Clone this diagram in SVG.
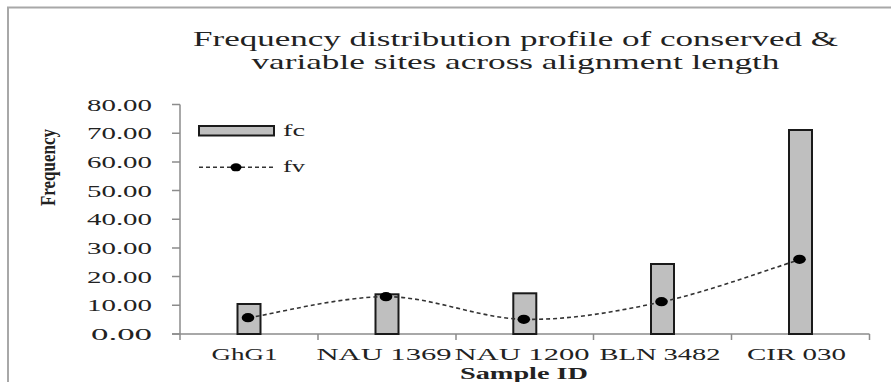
<svg xmlns="http://www.w3.org/2000/svg" width="891" height="382" viewBox="0 0 891 382">
<style>
.t{font-family:"Liberation Serif","Times New Roman",serif;fill:#222}
.title{font-size:21px}
.tick{font-size:16px;text-anchor:end}
.cat{font-size:16px;text-anchor:middle}
.axis{stroke:#8c8c8c;stroke-width:1.5;fill:none}
.bar{fill:#bfbfbf;stroke:#1a1a1a;stroke-width:2}
.dot{fill:#000}
.fv{fill:none;stroke:#333;stroke-width:1.6;stroke-dasharray:4 3}
</style>
<rect width="891" height="382" fill="#fff"/>
<rect x="8" y="7.5" width="900" height="400" fill="none" stroke="#a8a8a8" stroke-width="2"/>
<g id="title">
<text class="t title" x="515.5" y="46" text-anchor="middle" textLength="645" lengthAdjust="spacingAndGlyphs">Frequency distribution profile of conserved &amp;</text>
<text class="t title" x="515.5" y="68.5" text-anchor="middle" textLength="528" lengthAdjust="spacingAndGlyphs">variable sites across alignment length</text>
</g>
<g id="y-axis">
<path class="axis" d="M180 104.5V340M172 104.5H180M172 133.2H180M172 161.9H180M172 190.6H180M172 219.3H180M172 247.9H180M172 276.6H180M172 305.3H180M172 334H180"/>
<text class="t tick" x="152" y="110.5" textLength="65" lengthAdjust="spacingAndGlyphs">80.00</text>
<text class="t tick" x="152" y="139.2" textLength="65" lengthAdjust="spacingAndGlyphs">70.00</text>
<text class="t tick" x="152" y="167.9" textLength="65" lengthAdjust="spacingAndGlyphs">60.00</text>
<text class="t tick" x="152" y="196.6" textLength="65" lengthAdjust="spacingAndGlyphs">50.00</text>
<text class="t tick" x="152" y="225.3" textLength="65" lengthAdjust="spacingAndGlyphs">40.00</text>
<text class="t tick" x="152" y="253.9" textLength="65" lengthAdjust="spacingAndGlyphs">30.00</text>
<text class="t tick" x="152" y="282.6" textLength="65" lengthAdjust="spacingAndGlyphs">20.00</text>
<text class="t tick" x="152" y="311.3" textLength="65" lengthAdjust="spacingAndGlyphs">10.00</text>
<text class="t tick" x="152" y="340" textLength="61" lengthAdjust="spacingAndGlyphs">0.00</text>
<text class="t" x="0" y="0" font-size="21" font-weight="bold" text-anchor="middle" textLength="77" lengthAdjust="spacingAndGlyphs" transform="translate(55 167.5) rotate(-90)">Frequency</text>
</g>
<g id="x-axis">
<path class="axis" d="M172 334H869.5M318 334V340M456 334V340M593.5 334V340M731.5 334V340M869.5 334V340"/>
<text class="t cat" x="244.5" y="360" textLength="66" lengthAdjust="spacingAndGlyphs">GhG1</text>
<text class="t cat" x="384" y="360" textLength="135" lengthAdjust="spacingAndGlyphs">NAU 1369</text>
<text class="t cat" x="522" y="360" textLength="135" lengthAdjust="spacingAndGlyphs">NAU 1200</text>
<text class="t cat" x="660" y="360" textLength="121" lengthAdjust="spacingAndGlyphs">BLN 3482</text>
<text class="t cat" x="796.5" y="360" textLength="99" lengthAdjust="spacingAndGlyphs">CIR 030</text>
<text class="t" x="524" y="379" font-size="17" font-weight="bold" text-anchor="middle" textLength="128" lengthAdjust="spacingAndGlyphs">Sample ID</text>
</g>
<g id="bars">
<rect id="bar-GhG1" class="bar" x="237.5" y="304" width="23" height="30"/>
<rect id="bar-NAU1369" class="bar" x="375.5" y="294.3" width="23" height="39.7"/>
<rect id="bar-NAU1200" class="bar" x="513.3" y="293.3" width="23" height="40.7"/>
<rect id="bar-BLN3482" class="bar" x="651" y="264" width="23" height="70"/>
<rect id="bar-CIR030" class="bar" x="789" y="130" width="23" height="204"/>
</g>
<g id="connectors">
<path class="fv" d="M249 317.7C272 314.2 341 296.4 387 296.7C433 297 478.9 318.5 524.8 319.3C570.7 320.1 616.6 311.7 662.6 301.7C708.6 291.7 777.5 266.4 800.5 259.3"/>
</g>
<g id="points">
<ellipse class="dot" cx="248" cy="317.7" rx="6.3" ry="4.6"/>
<ellipse class="dot" cx="386" cy="296.7" rx="6.3" ry="4.6"/>
<ellipse class="dot" cx="523.8" cy="319.3" rx="6.3" ry="4.6"/>
<ellipse class="dot" cx="661.5" cy="301.7" rx="6.3" ry="4.6"/>
<ellipse class="dot" cx="799.5" cy="259.3" rx="6.3" ry="4.6"/>
</g>
<g id="legend">
<rect class="bar" x="199" y="126" width="75" height="9.5" stroke-width="1.6"/>
<text class="t" x="283" y="136" font-size="16" textLength="22" lengthAdjust="spacingAndGlyphs">fc</text>
<path class="fv" d="M199 167.3H275"/>
<ellipse class="dot" cx="236" cy="167.3" rx="5.5" ry="4"/>
<text class="t" x="283" y="171.5" font-size="16" textLength="22" lengthAdjust="spacingAndGlyphs">fv</text>
</g>
</svg>
